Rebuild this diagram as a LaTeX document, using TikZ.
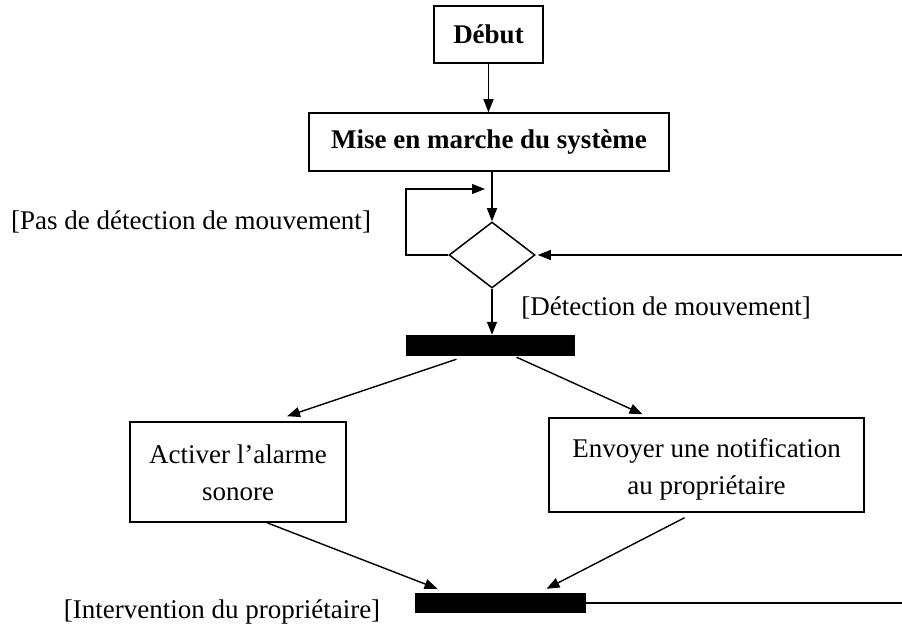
\documentclass[tikz,border=0pt]{standalone}
\usepackage{fontspec}
\setmainfont{Liberation Serif}
\usetikzlibrary{shapes.geometric,arrows.meta}
\begin{document}
\begin{tikzpicture}[x=1pt,y=-1pt,
  every node/.style={font=\fontsize{27}{32}\selectfont, inner sep=0pt},
  box/.style={draw, line width=1.5pt, align=center},
  bar/.style={fill=black, draw=none},
  decision/.style={draw, line width=1.5pt, diamond, minimum width=86pt, minimum height=66pt},
  flow/.style={line width=1.4pt, -{Triangle[length=13pt,width=10pt]}},
  plain/.style={line width=1.4pt},
  guard/.style={anchor=center}]
\useasboundingbox (0,0) rectangle (902,631);

% action nodes
\node[box, minimum width=109pt, minimum height=57pt, font=\fontsize{27}{32}\selectfont\bfseries] (debut) at (488.5,34.5) {Début};
\node[box, minimum width=360pt, minimum height=58pt, font=\fontsize{27}{32}\selectfont\bfseries] (mise) at (489,142) {Mise en marche du système};
\node[decision] (dec) at (492,255) {};
\node[bar, minimum width=169pt, minimum height=21pt] (fork) at (490.5,345.5) {};
\node[box, minimum width=216pt, minimum height=100pt,
      label={[align=center, yshift=-1pt]center:Activer l’alarme\\[5pt]sonore}] (act) at (238,472) {};
\node[box, minimum width=315pt, minimum height=94pt,
      label={[align=center, yshift=-4pt]center:Envoyer une notification\\[5pt]au propriétaire}] (env) at (706.5,465) {};
\node[bar, minimum width=171pt, minimum height=20pt] (join) at (500.5,603) {};

% guard labels
\node[guard] (nomove) at (191,222) {[Pas de détection de mouvement]};
\node[guard] (move) at (666,308) {[Détection de mouvement]};
\node[guard] (owner) at (222,612) {[Intervention du propriétaire]};

% free ends of the loops
\coordinate (loopl) at (406,255);
\coordinate (loopt) at (406,189);
\coordinate (loopend) at (485,189);
\coordinate (backr) at (902,255);
\coordinate (outr) at (902,603);

% connectors
\draw[flow] (debut.south) -- (debut.south |- mise.north);
\draw[flow] (mise.south -| dec.north) -- (dec.north);
\draw[flow] (dec.west) -- (loopl) -- (loopt) -- (loopend);
\draw[flow] (backr |- dec.east) -- ([xshift=2pt]dec.east);
\draw[flow] (dec.south) -- (fork.north -| dec.south);
\draw[flow] ([xshift=-34pt,yshift=-3pt]fork.south) -- ([xshift=49pt,yshift=5pt]act.north);
\draw[flow] ([xshift=26pt,yshift=-1pt]fork.south) -- ([xshift=-64pt,yshift=3pt]env.north);
\draw[flow] ([xshift=29pt]act.south) -- ([xshift=-63pt,yshift=4pt]join.north);
\draw[flow] ([xshift=-22pt,yshift=-5pt]env.south) -- ([xshift=46pt,yshift=4pt]join.north);
\draw[plain] (join.east) -- (outr |- join.east);
\end{tikzpicture}
\end{document}
